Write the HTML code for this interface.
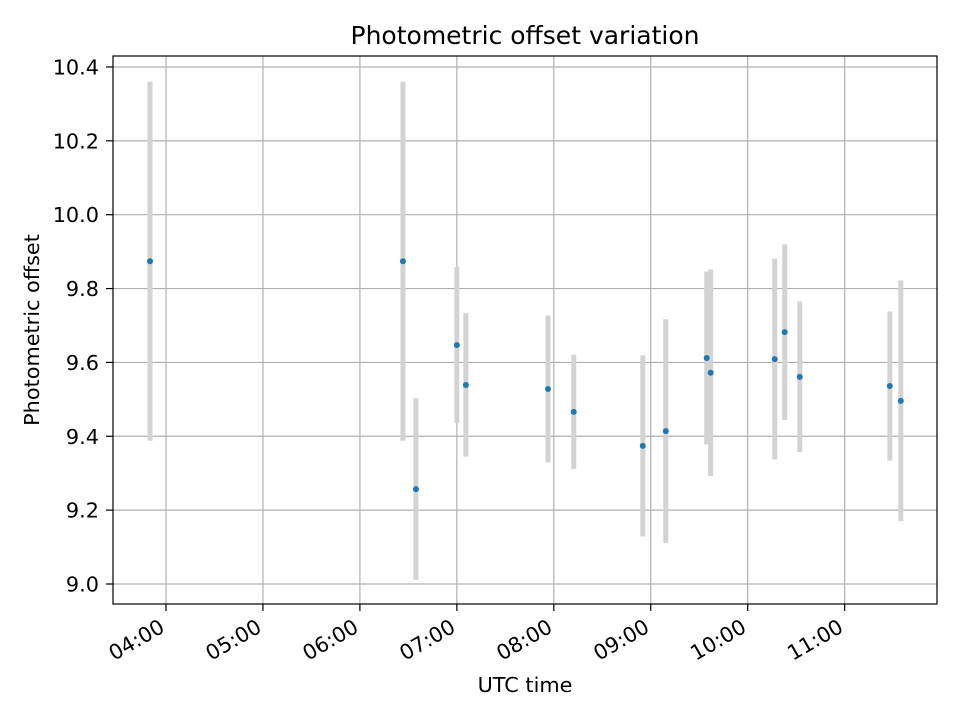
<!DOCTYPE html>
<html><head><meta charset="utf-8"><style>
body{margin:0;background:#fff;}
svg text{font-family:"DejaVu Sans","Liberation Sans",sans-serif;}
</style></head><body>
<svg id="chart" width="960" height="720" xmlns="http://www.w3.org/2000/svg">
<rect width="960" height="720" fill="#fff"/>
<g id="grid"></g>
<g id="bars"></g>
<g id="pts"></g>
<rect x="113" y="56" width="824" height="548" fill="none" stroke="#000" stroke-width="1.2"/>
<g id="ticks"></g>
<text x="525" y="44" text-anchor="middle" style="font-size:25px">Photometric offset variation</text>
<text x="525" y="692" text-anchor="middle" style="font-size:20.8px">UTC time</text>
<text x="39" y="330" text-anchor="middle" style="font-size:20.8px" transform="rotate(-90 39 330)">Photometric offset</text>
</svg>
<script>
const times=[3.835,6.444,6.578,7.0,7.093,7.94,8.206,8.918,9.155,9.577,9.618,10.279,10.382,10.537,11.466,11.579];
const offsets=[9.874,9.874,9.257,9.647,9.539,9.528,9.466,9.374,9.414,9.612,9.572,9.609,9.682,9.561,9.536,9.496];
const errs=[0.486,0.486,0.246,0.211,0.194,0.199,0.155,0.245,0.303,0.234,0.28,0.272,0.238,0.204,0.202,0.326];
const xTicks=[4,5,6,7,8,9,10,11];
const xTickLabels=["04:00","05:00","06:00","07:00","08:00","09:00","10:00","11:00"];
const yTicks=[9.0,9.2,9.4,9.6,9.8,10.0,10.2,10.4];
const yTickLabels=["9.0","9.2","9.4","9.6","9.8","10.0","10.2","10.4"];
const NS="http://www.w3.org/2000/svg";
const X=t=>166+(t-4)*96.95;
const Y=v=>584-(v-9.0)*369.3;
function mk(tag,at,parent){const e=document.createElementNS(NS,tag);for(const k in at)e.setAttribute(k,at[k]);document.getElementById(parent).appendChild(e);return e;}
xTicks.forEach((t,i)=>{
 const g=mk('line',{x1:X(t),x2:X(t),y1:56,y2:604,stroke:'#b0b0b0','stroke-width':1.2},'grid');
 
 
 const tk=mk('line',{x1:X(t),x2:X(t),y1:604,y2:611,stroke:'#000','stroke-width':1.2},'ticks');
 
 
 const tx=mk('text',{x:X(t),y:631,'text-anchor':'end',style:'font-size:20.8px',transform:`rotate(-30 ${X(t)} 631)`},'ticks');
 tx.textContent=xTickLabels[i];
 
 
});
yTicks.forEach((v,i)=>{
 const g=mk('line',{x1:113,x2:937,y1:Y(v),y2:Y(v),stroke:'#b0b0b0','stroke-width':1.2},'grid');
 
 
 const tk=mk('line',{x1:106,x2:113,y1:Y(v),y2:Y(v),stroke:'#000','stroke-width':1.2},'ticks');
 
 
 const tx=mk('text',{x:99,y:Y(v)+7.5,'text-anchor':'end',style:'font-size:20.8px'},'ticks');
 tx.textContent=yTickLabels[i];
 
 
});
times.forEach((t,i)=>{
 const b=mk('line',{x1:X(t),x2:X(t),y1:Y(offsets[i]+errs[i]),y2:Y(offsets[i]-errs[i]),stroke:'#d3d3d3','stroke-width':5},'bars');
 
 
 const p=mk('circle',{cx:X(t),cy:Y(offsets[i]),r:3,fill:'#1f77b4'},'pts');
 
 
});
</script>
</body></html>
